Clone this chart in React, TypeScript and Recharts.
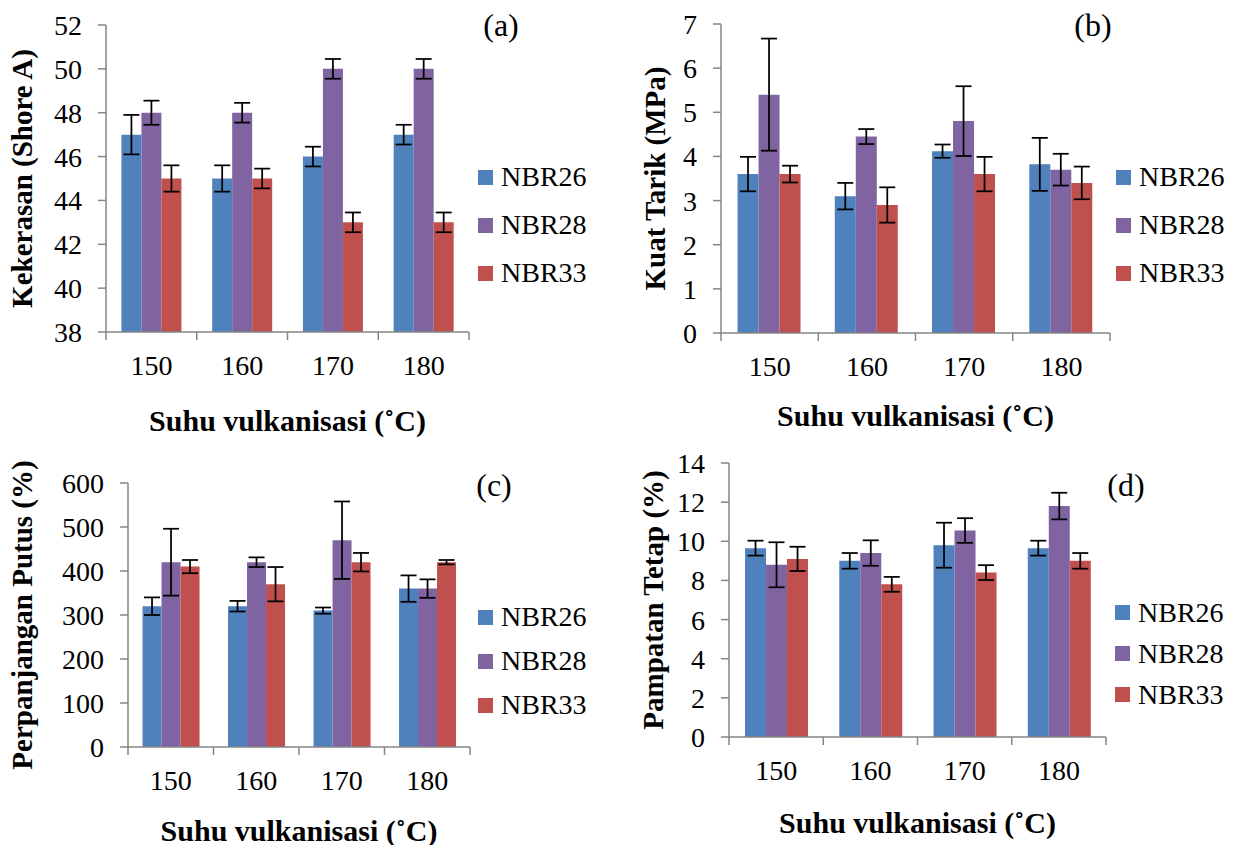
import { Bar, BarChart, ErrorBar, Legend, XAxis, YAxis } from "recharts";

const temps = ["150", "160", "170", "180"];

// (a) Kekerasan (Shore A)
const hardNBR26 = [47, 45, 46, 47];
const hardNBR26Err = [0.9, 0.6, 0.45, 0.45];
const hardNBR28 = [48, 48, 50, 50];
const hardNBR28Err = [0.55, 0.45, 0.45, 0.45];
const hardNBR33 = [45, 45, 43, 43];
const hardNBR33Err = [0.6, 0.45, 0.45, 0.45];
const hardTicks = [38, 40, 42, 44, 46, 48, 50, 52];

// (b) Kuat Tarik (MPa)
const tensNBR26 = [3.6, 3.1, 4.12, 3.82];
const tensNBR26Err = [0.39, 0.3, 0.15, 0.6];
const tensNBR28 = [5.4, 4.45, 4.8, 3.7];
const tensNBR28Err = [1.27, 0.17, 0.79, 0.36];
const tensNBR33 = [3.6, 2.9, 3.6, 3.4];
const tensNBR33Err = [0.19, 0.4, 0.39, 0.37];
const tensTicks = [0, 1, 2, 3, 4, 5, 6, 7];

// (c) Perpanjangan Putus (%)
const elongNBR26 = [320, 320, 310, 360];
const elongNBR26Err = [20, 12, 7, 30];
const elongNBR28 = [420, 420, 470, 360];
const elongNBR28Err = [76, 11, 88, 21];
const elongNBR33 = [410, 370, 420, 420];
const elongNBR33Err = [15, 39, 21, 5];
const elongTicks = [0, 100, 200, 300, 400, 500, 600];

// (d) Pampatan Tetap (%)
const setNBR26 = [9.65, 9.0, 9.8, 9.65];
const setNBR26Err = [0.38, 0.4, 1.15, 0.38];
const setNBR28 = [8.8, 9.4, 10.55, 11.8];
const setNBR28Err = [1.15, 0.65, 0.63, 0.68];
const setNBR33 = [9.1, 7.8, 8.4, 9.0];
const setNBR33Err = [0.62, 0.38, 0.38, 0.4];
const setTicks = [0, 2, 4, 6, 8, 10, 12, 14];

const COLORS = {
  nbr26: "#4F81BD",
  nbr28: "#8064A2",
  nbr33: "#C0504D",
  axis: "#868686",
  text: "#000000",
};
const FONT = '"Liberation Serif", "Times New Roman", serif';
const Y_AXIS_W = 100;
const X_AXIS_H = 90;

function buildRows(
  a: number[], ae: number[],
  b: number[], be: number[],
  c: number[], ce: number[],
) {
  return temps.map((temp, i) => ({
    temp,
    nbr26: a[i], e26: ae[i],
    nbr28: b[i], e28: be[i],
    nbr33: c[i], e33: ce[i],
  }));
}

type Rect = { left: number; top: number; width: number; height: number };
type Plot = { l: number; r: number; t: number; b: number };

type PanelProps = {
  box: Rect;
  plot: Plot;
  rows: ReturnType<typeof buildRows>;
  ticks: number[];
  yTitle: string;
  yTitleDx: number;
  xTitleDy: number;
  letter: string;
  letterPos: [number, number];
  legend: { x: number; y: number; row: number };
};

function CategoryTick(props: any) {
  const { x, y, payload, index, half, count } = props;
  return (
    <g>
      <line x1={x - half} x2={x - half} y1={y} y2={y + 8} stroke={COLORS.axis} strokeWidth={1.5} />
      {index === count - 1 ? (
        <line x1={x + half} x2={x + half} y1={y} y2={y + 8} stroke={COLORS.axis} strokeWidth={1.5} />
      ) : null}
      <text
        x={x}
        y={y + 33}
        textAnchor="middle"
        dominantBaseline="central"
        fill={COLORS.text}
        fontFamily={FONT}
        fontSize={28}
      >
        {payload.value}
      </text>
    </g>
  );
}

function Panel({ box, plot, rows, ticks, yTitle, yTitleDx, xTitleDy, letter, letterPos, legend }: PanelProps) {
  const half = (plot.r - plot.l) / temps.length / 2;
  const margin = {
    left: plot.l - box.left - Y_AXIS_W,
    right: box.left + box.width - plot.r,
    top: plot.t - box.top,
    bottom: box.top + box.height - plot.b - X_AXIS_H,
  };

  return (
    <div style={{ position: "absolute", left: box.left, top: box.top, width: box.width, height: box.height }}>
      <BarChart
        width={box.width}
        height={box.height}
        data={rows}
        margin={margin}
        barCategoryGap="17%"
        barGap={0}
      >
        <XAxis
          dataKey="temp"
          height={X_AXIS_H}
          interval={0}
          tickSize={0}
          tickMargin={0}
          tickLine={false}
          axisLine={{ stroke: COLORS.axis, strokeWidth: 1.5 }}
          tick={<CategoryTick half={half} count={temps.length} />}
          label={{
            content: (p: any) => {
              const vb = p.viewBox;
              return (
                <text
                  x={vb.x + vb.width / 2}
                  y={vb.y + xTitleDy}
                  textAnchor="middle"
                  dominantBaseline="central"
                  fill={COLORS.text}
                  fontFamily={FONT}
                  fontSize={30}
                  fontWeight="bold"
                >
                  Suhu vulkanisasi (˚C)
                </text>
              );
            },
          }}
        />
        <YAxis
          width={Y_AXIS_W}
          domain={[ticks[0], ticks[ticks.length - 1]]}
          ticks={ticks}
          interval={0}
          allowDataOverflow
          tickSize={8}
          tickMargin={16}
          axisLine={{ stroke: COLORS.axis, strokeWidth: 1.5 }}
          tickLine={{ stroke: COLORS.axis, strokeWidth: 1.5 }}
          tick={{ fill: COLORS.text, fontSize: 28, fontFamily: FONT }}
          label={{
            content: (p: any) => {
              const vb = p.viewBox;
              const cx = vb.x + vb.width - yTitleDx;
              const cy = vb.y + vb.height / 2;
              return (
                <text
                  x={cx}
                  y={cy}
                  transform={`rotate(-90 ${cx} ${cy})`}
                  textAnchor="middle"
                  dominantBaseline="central"
                  fill={COLORS.text}
                  fontFamily={FONT}
                  fontSize={29}
                  fontWeight="bold"
                >
                  {yTitle}
                </text>
              );
            },
          }}
        />
        <Legend
          layout="vertical"
          align="center"
          verticalAlign="middle"
          wrapperStyle={{ left: legend.x - box.left, top: legend.y - box.top, width: 140 }}
          content={(p: any) => (
            <div>
              {(p.payload || []).map((entry: any) => (
                <div
                  key={entry.value}
                  style={{ display: "flex", alignItems: "center", height: legend.row }}
                >
                  <span style={{ width: 15, height: 15, background: entry.color, marginRight: 8 }} />
                  <span style={{ fontFamily: FONT, fontSize: 28, color: COLORS.text, lineHeight: 1 }}>
                    {entry.value}
                  </span>
                </div>
              ))}
            </div>
          )}
        />
        <Bar dataKey="nbr26" name="NBR26" fill={COLORS.nbr26} isAnimationActive={false}>
          <ErrorBar dataKey="e26" width={8} stroke="#000" strokeWidth={1.75} isAnimationActive={false} />
        </Bar>
        <Bar dataKey="nbr28" name="NBR28" fill={COLORS.nbr28} isAnimationActive={false}>
          <ErrorBar dataKey="e28" width={8} stroke="#000" strokeWidth={1.75} isAnimationActive={false} />
        </Bar>
        <Bar dataKey="nbr33" name="NBR33" fill={COLORS.nbr33} isAnimationActive={false}>
          <ErrorBar dataKey="e33" width={8} stroke="#000" strokeWidth={1.75} isAnimationActive={false} />
        </Bar>
      </BarChart>
      <div
        style={{
          position: "absolute",
          left: letterPos[0] - box.left,
          top: letterPos[1] - box.top,
          transform: "translate(-50%, -50%)",
          fontFamily: FONT,
          fontSize: 32,
          color: COLORS.text,
          lineHeight: 1,
        }}
      >
        {letter}
      </div>
    </div>
  );
}

export default function App() {
  return (
    <div style={{ position: "absolute", left: 0, top: 0, width: 1236, height: 845, background: "#fff" }}>
      <Panel
        box={{ left: 0, top: 0, width: 618, height: 440 }}
        plot={{ l: 106, r: 469, t: 25, b: 332 }}
        rows={buildRows(hardNBR26, hardNBR26Err, hardNBR28, hardNBR28Err, hardNBR33, hardNBR33Err)}
        ticks={hardTicks}
        yTitle="Kekerasan (Shore A)"
        yTitleDx={84}
        xTitleDy={88}
        letter="(a)"
        letterPos={[501, 25]}
        legend={{ x: 478, y: 153, row: 48 }}
      />
      <Panel
        box={{ left: 618, top: 0, width: 618, height: 440 }}
        plot={{ l: 721, r: 1110, t: 24, b: 333 }}
        rows={buildRows(tensNBR26, tensNBR26Err, tensNBR28, tensNBR28Err, tensNBR33, tensNBR33Err)}
        ticks={tensTicks}
        yTitle="Kuat Tarik (MPa)"
        yTitleDx={66}
        xTitleDy={82}
        letter="(b)"
        letterPos={[1093, 25]}
        legend={{ x: 1116, y: 153, row: 48 }}
      />
      <Panel
        box={{ left: 0, top: 440, width: 618, height: 405 }}
        plot={{ l: 128, r: 470, t: 483, b: 747 }}
        rows={buildRows(elongNBR26, elongNBR26Err, elongNBR28, elongNBR28Err, elongNBR33, elongNBR33Err)}
        ticks={elongTicks}
        yTitle="Perpanjangan Putus (%)"
        yTitleDx={106}
        xTitleDy={83}
        letter="(c)"
        letterPos={[494, 485]}
        legend={{ x: 478, y: 595, row: 44 }}
      />
      <Panel
        box={{ left: 618, top: 440, width: 618, height: 405 }}
        plot={{ l: 729, r: 1106, t: 463, b: 737 }}
        rows={buildRows(setNBR26, setNBR26Err, setNBR28, setNBR28Err, setNBR33, setNBR33Err)}
        ticks={setTicks}
        yTitle="Pampatan Tetap (%)"
        yTitleDx={76}
        xTitleDy={85}
        letter="(d)"
        letterPos={[1126, 485]}
        legend={{ x: 1115, y: 592, row: 41 }}
      />
    </div>
  );
}
